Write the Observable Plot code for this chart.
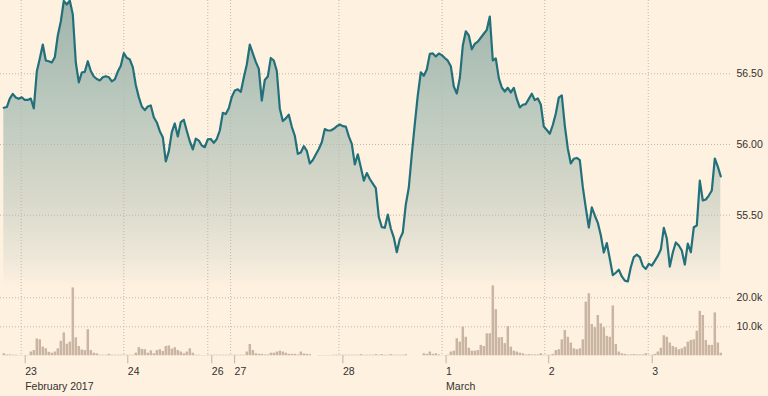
<!DOCTYPE html>
<html><head><meta charset="utf-8">
<script src="https://cdn.jsdelivr.net/npm/d3@7"></script>
<script src="https://cdn.jsdelivr.net/npm/@observablehq/plot@0.6"></script>
<style>
html,body{margin:0;padding:0;background:#fff1e0;}
#chart{position:relative;width:768px;height:396px;overflow:hidden;background:#fff1e0;font-family:"Liberation Sans",Arial,sans-serif;}
#chart svg{position:absolute;left:0;}
</style></head><body><div id="chart"></div>
<script>
// Price (intraday samples, evenly spaced)
const price = [
56.260,56.265,56.325,56.358,56.333,56.323,56.334,56.315,56.315,56.325,
56.255,56.516,56.608,56.707,56.594,56.589,56.580,56.617,56.771,56.870,
57.015,56.990,57.018,56.919,56.580,56.439,56.509,56.514,56.589,56.520,
56.481,56.463,56.453,56.475,56.483,56.476,56.446,56.461,56.516,56.557,
56.646,56.613,56.601,56.547,56.421,56.335,56.269,56.243,56.269,56.276,
56.193,56.156,56.094,56.052,55.880,55.951,56.087,56.149,56.057,56.159,
56.175,56.096,56.023,55.965,56.042,56.028,55.993,55.981,56.037,56.039,
56.012,56.039,56.099,56.224,56.215,56.257,56.337,56.382,56.390,56.372,
56.474,56.566,56.707,56.644,56.584,56.535,56.311,56.456,56.481,56.612,
56.594,56.520,56.255,56.166,56.185,56.211,56.125,56.062,55.934,55.944,
55.988,55.955,55.866,55.890,55.929,55.968,56.016,56.109,56.099,56.099,
56.111,56.129,56.141,56.130,56.127,56.057,56.005,55.859,55.931,55.840,
55.745,55.798,55.756,55.724,55.691,55.487,55.416,55.411,55.505,55.406,
55.342,55.238,55.331,55.378,55.576,55.696,55.931,56.146,56.349,56.511,
56.486,56.530,56.641,56.644,56.622,56.643,56.632,56.612,56.593,56.554,
56.410,56.361,56.470,56.700,56.801,56.771,56.673,56.712,56.728,56.755,
56.783,56.811,56.905,56.594,56.608,56.470,56.403,56.375,56.401,56.368,
56.401,56.322,56.262,56.281,56.286,56.323,56.359,56.314,56.326,56.283,
56.127,56.102,56.076,56.138,56.219,56.332,56.347,56.134,55.972,55.866,
55.899,55.905,55.889,55.698,55.552,55.413,55.555,55.498,55.446,55.358,
55.236,55.303,55.192,55.076,55.093,55.114,55.067,55.037,55.031,55.132,
55.204,55.221,55.203,55.141,55.120,55.156,55.144,55.177,55.212,55.257,
55.411,55.335,55.137,55.236,55.307,55.286,55.250,55.151,55.300,55.238,
55.415,55.427,55.745,55.604,55.611,55.639,55.675,55.901,55.844,55.774
];
// Volume, thousands
const volume = [
0.7,0.3,0.3,0.2,0.2,0.1,0.1,0.1,0.1,1.3,
1.8,5.8,5.5,3.0,2.4,1.2,0.9,1.3,2.4,5.0,
7.9,4.0,4.7,23.4,6.2,3.2,2.0,1.8,9.0,1.8,
0.9,0.7,0.2,0.2,0.2,0.5,0.2,0.2,0.2,0.2,
0.2,0.2,0.2,0.2,0.9,2.8,2.2,2.1,0.9,1.7,
0.7,1.8,2.1,1.5,3.2,3.4,2.3,2.8,1.8,1.3,
0.7,1.3,2.4,0.9,0.2,0.2,0.1,0.1,0.2,0.2,
0.2,0.2,0.2,0.2,0.2,0.2,0.2,0.2,0.2,0.2,
0.2,1.3,3.9,1.8,0.7,0.5,0.5,0.3,0.3,0.9,
0.9,1.3,1.6,1.3,0.9,0.5,0.5,0.5,0.3,1.3,
0.6,0.5,0.4,0,0,0.1,0.1,0.1,0.1,0.1,
0.2,0.2,0.2,0.2,0.2,0.2,0.2,0.2,0.2,0.4,
0.2,0.2,0.2,0.2,0.4,0.2,0.4,0.2,0.2,0.4,
0.2,0.2,0.2,0.2,0.4,0,0,0,0,0,
0.7,0.5,1.3,0.5,0.7,0.3,0.1,0.1,0.2,1.3,
1.6,5.9,4.7,9.9,6.4,2.6,1.6,1.6,1.8,3.6,
3.2,7.6,7.6,24.1,15.9,6.2,6.3,4.2,10.1,3.0,
1.6,1.3,0.9,0.7,0.3,0.4,0.3,0.3,0.3,0.7,
0.2,0.2,0.2,0.5,1.8,2.1,5.5,8.7,6.4,4.4,
2.4,2.1,2.4,5.5,18.5,21.4,10.8,9.7,13.9,11.0,
9.7,6.7,6.4,17.2,3.9,1.3,0.7,0.5,0.3,0.3,
0.4,0.3,0.3,0.3,0.7,0.2,0.2,0.5,1.3,2.6,
6.9,6.4,4.4,3.2,2.8,2.1,2.4,3.0,4.7,5.3,
5.5,8.5,15.3,13.9,5.3,3.6,3.6,14.8,4.4,0.9
];
// Day boundaries (in sample units) and labels
const dayTicks = [5.8, 40, 68, 75.6, 111.7, 146.1, 180.3, 214.8];
const dayLabels = ["23","24","26","27","28","1","2","3"];
const monthLabels = ["February 2017","","","","","March","",""];
const priceTicks = [55.5, 56.0, 56.5];
const priceTickLabels = ["55.50", "56.00", "56.50"];
const volumeTicks = [10, 20];
const volumeTickLabels = ["10.0k", "20.0k"];

const xDomain = [-1.1, 242.23];
const priceDomain = [54.9675, 57.0184];
const volDomain = [0, 22.517];
const grid = {stroke: "#bfb6aa", strokeDasharray: "1,2", strokeWidth: 1};
const textColor = "#33302e";
const fontSize = 10.5;
const svgStyle = {background: "transparent", overflow: "visible", fontFamily: "'Liberation Sans', Arial, sans-serif", fontSize: fontSize + "px"};
const labelMap = new Map(dayTicks.map((t, k) => [t, dayLabels[k] + (monthLabels[k] ? "\n" + monthLabels[k] : "")]));

const pricePlot = Plot.plot({
  width: 768, height: 290,
  marginLeft: 0, marginRight: 38, marginTop: 0, marginBottom: 0,
  style: svgStyle,
  x: {domain: xDomain, axis: null, label: null},
  y: {domain: priceDomain, axis: null, label: null},
  marks: [
    Plot.areaY(price, {x: (d, i) => i, y1: priceDomain[0], y2: d => d, fill: "url(#priceGrad)"}),
    Plot.ruleY(priceTicks, grid),
    Plot.ruleX(dayTicks, grid),
    Plot.lineY(price, {x: (d, i) => i, y: d => d, stroke: "#22707a", strokeWidth: 2.2, strokeLinejoin: "round"}),
    Plot.text(priceTicks, {y: d => d, text: (d, i) => priceTickLabels[i], frameAnchor: "right", textAnchor: "start", dx: 6, fill: textColor, fontSize})
  ]
});
const defs = d3.select(pricePlot).insert("defs", ":first-child");
const lg = defs.append("linearGradient").attr("id", "priceGrad")
  .attr("gradientUnits", "userSpaceOnUse").attr("x1", 0).attr("x2", 0).attr("y1", 0).attr("y2", 288);
[[0, "#9fb4ac"], [0.35, "#bac8bd"], [0.7, "#d9d9cb"], [0.88, "#ece6d8"], [1, "#fff1e0"]]
  .forEach(([o, c]) => lg.append("stop").attr("offset", o).attr("stop-color", c));
pricePlot.style.top = "0px";

const volPlot = Plot.plot({
  width: 768, height: 106,
  marginLeft: 0, marginRight: 38, marginTop: 0, marginBottom: 40.7,
  style: svgStyle,
  x: {domain: xDomain, axis: null, label: null},
  y: {domain: volDomain, axis: null, label: null},
  marks: [
    Plot.ruleY(volumeTicks, grid),
    Plot.ruleX(dayTicks, grid),
    Plot.ruleX(volume, {x: (d, i) => i, y1: 0, y2: d => d, stroke: "#c9b5a1", strokeWidth: 2.5}),
    Plot.text(volumeTicks, {y: d => d, text: (d, i) => volumeTickLabels[i], frameAnchor: "right", textAnchor: "start", dx: 6, fill: textColor, fontSize}),
    Plot.axisX(dayTicks, {anchor: "bottom", tickSize: 8, tickPadding: 0, tickFormat: t => labelMap.get(t), textAnchor: "start", dx: 4, lineHeight: 1.45, stroke: "#bbb3a8", fill: textColor, fontSize, label: null})
  ]
});
volPlot.style.top = "290px";

const chart = document.getElementById("chart");
chart.appendChild(pricePlot);
chart.appendChild(volPlot);
</script></body></html>
